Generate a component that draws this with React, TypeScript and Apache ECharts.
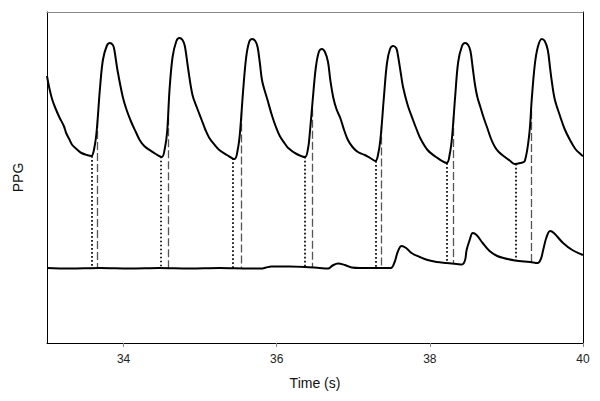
import React, { useEffect, useRef } from "react";
import * as echarts from "echarts";

// Upper PPG trace (time in s, amplitude in arbitrary units)
const upperTime = [
  33.0, 33.03, 33.07, 33.12, 33.16, 33.22, 33.25, 33.29, 33.33, 33.4, 33.45, 33.52, 33.58,
  33.62, 33.65, 33.69, 33.73, 33.78, 33.82, 33.86, 33.88, 33.92, 33.99, 34.04, 34.1, 34.16, 34.21, 34.27, 34.34, 34.42, 34.5,
  34.54, 34.57, 34.6, 34.64, 34.69, 34.73, 34.77, 34.8, 34.84, 34.9, 34.96, 35.02, 35.07, 35.12, 35.19, 35.25, 35.35, 35.45,
  35.49, 35.52, 35.56, 35.6, 35.64, 35.68, 35.72, 35.75, 35.78, 35.81, 35.88, 35.94, 35.99, 36.04, 36.1, 36.15, 36.26, 36.37,
  36.41, 36.43, 36.47, 36.51, 36.55, 36.59, 36.63, 36.67, 36.7, 36.74, 36.78, 36.83, 36.88, 36.93, 36.99, 37.06, 37.15, 37.22, 37.29,
  37.33, 37.36, 37.4, 37.44, 37.48, 37.52, 37.56, 37.58, 37.62, 37.65, 37.71, 37.78, 37.83, 37.88, 37.97, 38.08, 38.22,
  38.26, 38.29, 38.33, 38.37, 38.42, 38.46, 38.5, 38.53, 38.56, 38.59, 38.62, 38.66, 38.7, 38.75, 38.8, 38.85, 38.9, 38.98, 39.05, 39.11, 39.18, 39.24,
  39.3, 39.33, 39.37, 39.41, 39.46, 39.5, 39.54, 39.57, 39.59, 39.63, 39.7, 39.76, 39.83, 39.9, 39.98, 40.0,
];
const upperPPG = [
  2.67, 2.55, 2.43, 2.33, 2.26, 2.17, 2.1, 2.04, 1.98, 1.93, 1.9, 1.88, 1.87,
  1.96, 2.13, 2.53, 2.83, 2.97, 3.0, 2.98, 2.93, 2.73, 2.46, 2.33, 2.21, 2.11, 2.03, 1.97, 1.93, 1.89, 1.86,
  1.95, 2.12, 2.53, 2.86, 3.02, 3.05, 3.03, 2.97, 2.76, 2.48, 2.35, 2.23, 2.13, 2.05, 1.98, 1.93, 1.88, 1.84,
  1.93, 2.1, 2.51, 2.85, 3.01, 3.04, 3.02, 2.96, 2.8, 2.62, 2.43, 2.27, 2.16, 2.07, 2.0, 1.95, 1.89, 1.86,
  1.95, 2.08, 2.43, 2.75, 2.91, 2.94, 2.91, 2.81, 2.63, 2.45, 2.34, 2.25, 2.13, 2.03, 1.96, 1.91, 1.88, 1.85, 1.82,
  1.91, 2.08, 2.46, 2.8, 2.94, 2.97, 2.95, 2.89, 2.7, 2.56, 2.38, 2.23, 2.13, 2.04, 1.93, 1.86, 1.8,
  1.89, 2.06, 2.46, 2.81, 2.97, 3.0, 2.98, 2.92, 2.75, 2.58, 2.46, 2.36, 2.26, 2.15, 2.04, 1.96, 1.91, 1.86, 1.82, 1.79, 1.8, 1.82,
  2.1, 2.43, 2.78, 2.96, 3.04, 3.02, 2.93, 2.75, 2.63, 2.44, 2.27, 2.14, 2.03, 1.94, 1.88, 1.87,
];

// Lower PPG trace
const lowerTime = [
  33.0, 33.29, 33.69, 34.08, 34.47, 34.86, 35.25, 35.65, 35.8, 35.86, 35.93, 36.17, 36.37, 36.56, 36.67, 36.73, 36.8, 36.89, 36.98,
  37.09, 37.35, 37.49, 37.54, 37.58, 37.63, 37.69, 37.76, 37.87, 37.97, 38.09, 38.22, 38.35, 38.42, 38.46, 38.48, 38.52,
  38.56, 38.61, 38.69, 38.78, 38.88, 38.96, 39.11, 39.31, 39.41, 39.45, 39.48, 39.52, 39.57, 39.62, 39.74, 39.86, 40.0,
];
const lowerPPG = [
  0.75, 0.745, 0.75, 0.745, 0.75, 0.745, 0.75, 0.745, 0.745, 0.755, 0.765, 0.765, 0.76, 0.75, 0.745, 0.775, 0.795, 0.78, 0.755,
  0.75, 0.75, 0.75, 0.81, 0.91, 0.97, 0.95, 0.9, 0.86, 0.83, 0.81, 0.8, 0.79, 0.785, 0.83, 0.93, 1.03,
  1.1, 1.08, 1.0, 0.92, 0.87, 0.85, 0.825, 0.81, 0.8, 0.84, 0.93, 1.05, 1.12, 1.1, 1.0, 0.93, 0.88,
];

// Marker times
const onsetTimes = [33.58, 34.49, 35.43, 36.36, 37.29, 38.22, 39.12]; // dotted
const laterTimes = [33.66, 34.58, 35.54, 36.46, 37.37, 38.31, 39.32]; // dashed

const xTickValues = [34, 36, 38, 40];

function interp(ts: number[], vs: number[], t: number): number {
  if (t <= ts[0]) return vs[0];
  for (let i = 1; i < ts.length; i++) {
    if (t <= ts[i]) {
      const f = (t - ts[i - 1]) / (ts[i] - ts[i - 1]);
      return vs[i - 1] + f * (vs[i] - vs[i - 1]);
    }
  }
  return vs[vs.length - 1];
}

const FONT = "'Liberation Sans', Arial, sans-serif";

export default function App() {
  const ref = useRef<HTMLDivElement>(null);
  useEffect(() => {
    if (!ref.current) return;
    const chart = echarts.init(ref.current, null, { renderer: "svg" });
    const upper = upperTime.map((t, i) => [t, upperPPG[i]]);
    const lower = lowerTime.map((t, i) => [t, lowerPPG[i]]);
    const seg = (times: number[]) =>
      times.map((t) => ({
        coords: [
          [t, interp(upperTime, upperPPG, t)],
          [t, interp(lowerTime, lowerPPG, t)],
        ],
      }));
    chart.setOption({
      animation: false,
      backgroundColor: "#fff",
      grid: { left: 47, right: 17, top: 12, bottom: 58 },
      xAxis: [
        {
          type: "value",
          min: 33,
          max: 40,
          name: "Time (s)",
          nameLocation: "middle",
          nameGap: 33,
          nameTextStyle: { fontFamily: FONT, fontSize: 14, color: "#111" },
          axisLine: { show: true, lineStyle: { color: "#000", width: 1 } },
          axisTick: { show: true, length: 4, customValues: xTickValues, lineStyle: { color: "#888" } },
          axisLabel: { customValues: xTickValues, margin: 10, fontFamily: FONT, fontSize: 12, color: "#222" },
          splitLine: { show: false },
        },
        {
          type: "value",
          position: "top",
          min: 33,
          max: 40,
          axisLine: { show: true, onZero: false, lineStyle: { color: "#888", width: 1 } },
          axisTick: { show: false },
          axisLabel: { show: false },
          splitLine: { show: false },
        },
      ],
      yAxis: [
        {
          type: "value",
          min: 0,
          max: 3.31,
          name: "PPG",
          nameLocation: "middle",
          nameGap: 22,
          nameTextStyle: { fontFamily: FONT, fontSize: 14, color: "#111" },
          axisLine: { show: true, onZero: false, lineStyle: { color: "#000", width: 1 } },
          axisTick: { show: false },
          axisLabel: { show: false },
          splitLine: { show: false },
        },
        {
          type: "value",
          position: "right",
          min: 0,
          max: 3.31,
          axisLine: { show: true, onZero: false, lineStyle: { color: "#000", width: 1 } },
          axisTick: { show: false },
          axisLabel: { show: false },
          splitLine: { show: false },
        },
      ],
      series: [
        {
          type: "lines",
          coordinateSystem: "cartesian2d",
          xAxisIndex: 0,
          yAxisIndex: 0,
          z: 1,
          data: seg(onsetTimes),
          lineStyle: { color: "#000", width: 1.7, type: [1.7, 2.3], opacity: 1 },
        },
        {
          type: "lines",
          coordinateSystem: "cartesian2d",
          xAxisIndex: 0,
          yAxisIndex: 0,
          z: 1,
          data: seg(laterTimes),
          lineStyle: { color: "#555", width: 1.3, type: [8, 3], opacity: 1 },
        },
        {
          type: "line",
          xAxisIndex: 0,
          yAxisIndex: 0,
          z: 3,
          data: upper,
          showSymbol: false,
          smooth: 0.35,
          lineStyle: { color: "#000", width: 2 },
        },
        {
          type: "line",
          xAxisIndex: 0,
          yAxisIndex: 0,
          z: 3,
          data: lower,
          showSymbol: false,
          smooth: 0.35,
          lineStyle: { color: "#000", width: 2 },
        },
      ],
    });
    return () => chart.dispose();
  }, []);
  return (
    <div
      ref={ref}
      style={{ position: "fixed", left: 0, top: 0, width: 600, height: 401, background: "#fff" }}
    />
  );
}
